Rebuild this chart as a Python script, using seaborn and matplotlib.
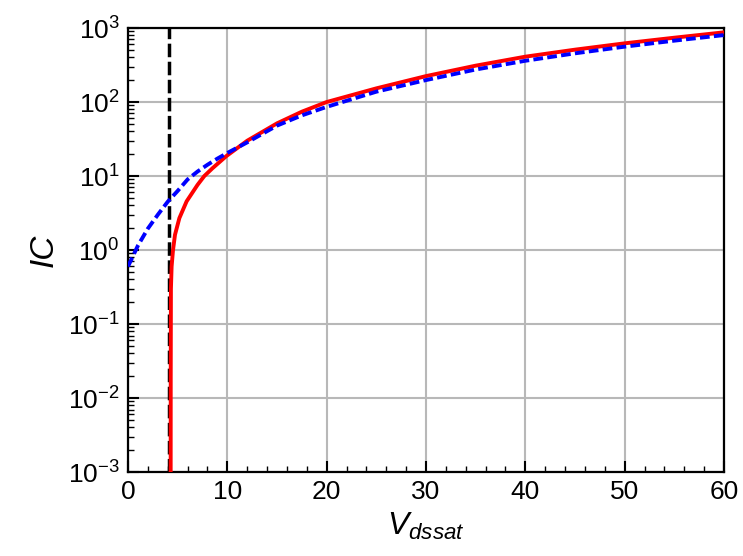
import numpy as np
import pandas as pd
import matplotlib
matplotlib.use("Agg")
import matplotlib.pyplot as plt
import matplotlib.ticker as mticker
import seaborn as sns

# Saturation voltage (x) and IC (y) samples for the two models
vds_red = [4.29, 4.30, 4.32, 4.39, 4.49, 4.53, 4.73, 5.17, 5.9, 7.0, 7.68, 8.52,
           9.9, 12, 15, 17.5, 20, 25, 30, 35, 40, 45, 50, 55, 60]
ic_red = [1e-4, 0.02, 0.3, 0.6, 0.865, 1.0, 1.61, 2.7, 4.55, 7.6, 10, 12.8,
          18.6, 30, 51.5, 74, 100, 153, 224, 310, 410, 510, 621, 740, 875]

vds_blue = [0, 1, 2, 3, 4, 5, 6, 7, 8, 9, 10, 12,
            15, 17.5, 20, 25, 30, 35, 40, 45, 50, 55, 60]
ic_blue = [0.6, 1.15, 1.95, 3.0, 4.5, 6.3, 9.0, 11.5, 14.2, 17.2, 20.5, 28.5,
           48, 66, 86, 138, 198, 275, 361, 455, 560, 675, 803]

v_threshold = 4.12

x_ticks = [0, 10, 20, 30, 40, 50, 60]

sns.set_style("ticks")
plt.rcParams["font.family"] = ["Liberation Sans", "DejaVu Sans"]
plt.rcParams["mathtext.fontset"] = "custom"
plt.rcParams["mathtext.rm"] = "Liberation Sans"
plt.rcParams["mathtext.it"] = "Liberation Sans:italic"
plt.rcParams["xtick.color"] = "black"
plt.rcParams["ytick.color"] = "black"
plt.rcParams["text.color"] = "black"
plt.rcParams["axes.labelcolor"] = "black"

df_red = pd.DataFrame({"vds": vds_red, "ic": ic_red})
df_blue = pd.DataFrame({"vds": vds_blue, "ic": ic_blue})

fig = plt.figure(figsize=(7.43, 5.56), dpi=100)
ax = fig.add_axes([0.1723, 0.151, 0.8021, 0.7986])

ax.grid(True, which="major", color="#b8b8b8", linewidth=1.5, zorder=0)
ax.set_axisbelow(True)

ax.axvline(v_threshold, color="black", linewidth=2.5, linestyle=(0, (3.9, 1.3)), zorder=2)

sns.lineplot(data=df_red, x="vds", y="ic", ax=ax, color="red", linewidth=2.8,
             sort=False, estimator=None, zorder=3)
sns.lineplot(data=df_blue, x="vds", y="ic", ax=ax, color="blue", linewidth=2.8,
             sort=False, estimator=None, zorder=4)
ax.lines[-1].set_linestyle((0, (2.5, 1.1)))

ax.set_yscale("log")
ax.set_xlim(0, 60)
ax.set_ylim(1e-3, 1e3)
ax.set_xticks(x_ticks)
ax.xaxis.set_minor_locator(mticker.MultipleLocator(2))
ax.yaxis.set_major_locator(mticker.LogLocator(base=10, numticks=10))
ax.yaxis.set_minor_locator(mticker.LogLocator(base=10, subs=np.arange(2, 10), numticks=20))
ax.yaxis.set_minor_formatter(mticker.NullFormatter())

ax.tick_params(which="major", direction="in", length=8, width=1.5, labelsize=19,
               top=False, right=False, pad=6, colors="black")
ax.tick_params(which="minor", direction="in", length=4, width=1.0,
               top=False, right=False, colors="black")

for s in ax.spines.values():
    s.set_linewidth(1.6)
    s.set_color("black")

ax.set_xlabel(r"$V_{dssat}$", fontsize=23, labelpad=5)
ax.set_ylabel("IC", fontsize=24, fontstyle="italic", labelpad=6)

fig.savefig("out.png", dpi=100)
